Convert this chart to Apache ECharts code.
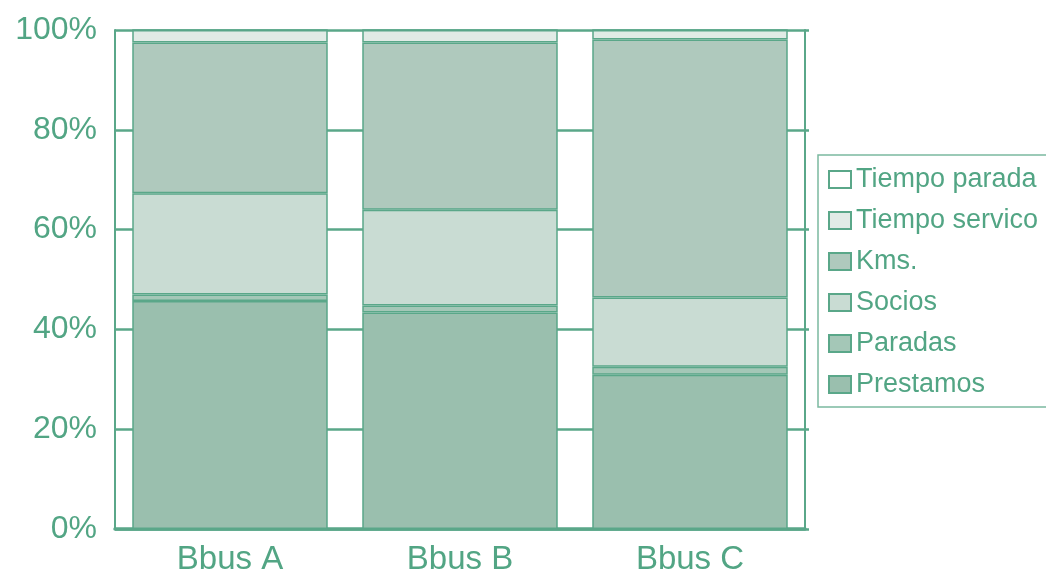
<!DOCTYPE html>
<html>
<head>
<meta charset="utf-8">
<script src="https://cdn.jsdelivr.net/npm/echarts@6/dist/echarts.min.js"></script>
<style>html,body{margin:0;padding:0;background:#fff}#c{width:1046px;height:576px}</style>
</head>
<body>
<div id="c"></div>
<script>
const categories = ['Bbus A', 'Bbus B', 'Bbus C'];
const seriesNames = ['Prestamos', 'Paradas', 'Socios', 'Kms.', 'Tiempo servico', 'Tiempo parada'];
const prestamos = [45.7, 43.4, 30.9];
const paradas = [1.3, 1.4, 1.6];
const socios = [20.3, 19.2, 13.9];
const kms = [30.2, 33.5, 51.7];
const tiempoServico = [2.5, 2.5, 1.9];
const tiempoParada = [0, 0, 0];
const yTicks = [0, 20, 40, 60, 80, 100];

const values = [prestamos, paradas, socios, kms, tiempoServico, tiempoParada];
const colors = ['#9abfae', '#a4c7b7', '#c9dcd3', '#afc9bd', '#e1ebe6', '#ffffff'];
const green = '#5aa789';
const textColor = '#52a584';
const font = 'Liberation Sans';

const chart = echarts.init(document.getElementById('c'), null, {renderer: 'canvas'});
const yAxisBase = {
  type: 'value', min: yTicks[0], max: yTicks[yTicks.length - 1], interval: 20,
  axisLine: {show: true, lineStyle: {color: green, width: 2}}
};
chart.setOption({
  backgroundColor: '#fff',
  animation: false,
  grid: {left: 115, right: 241, top: 30, bottom: 44},
  legend: {
    orient: 'vertical',
    left: 818, top: 155,
    data: seriesNames.slice().reverse(),
    itemWidth: 22, itemHeight: 17, itemGap: 14,
    padding: [11, 40, 9, 10],
    borderColor: '#7bb9a0', borderWidth: 1.5,
    textStyle: {color: textColor, fontSize: 27, fontFamily: font},
    icon: 'rect'
  },
  xAxis: {
    type: 'category', data: categories,
    axisLine: {show: true, lineStyle: {color: green, width: 3.5}},
    axisTick: {show: false},
    axisLabel: {color: textColor, fontSize: 33, fontFamily: font, margin: 14}
  },
  yAxis: [
    Object.assign({}, yAxisBase, {
      position: 'left',
      axisTick: {show: false},
      axisLabel: {color: textColor, fontSize: 32, fontFamily: font, margin: 18, formatter: '{value}%'},
      splitLine: {show: true, lineStyle: {color: green, width: 2.5}}
    }),
    Object.assign({}, yAxisBase, {
      position: 'right',
      axisTick: {show: true, inside: false, length: 4, lineStyle: {color: green, width: 2.5}},
      axisLabel: {show: false},
      splitLine: {show: false}
    })
  ],
  series: seriesNames.map((name, i) => ({
    name: name, type: 'bar', stack: 'total',
    data: values[i],
    barCategoryGap: '15%',
    itemStyle: {color: colors[i], borderColor: green, borderWidth: 1.5},
    emphasis: {disabled: true}
  }))
});
</script>
</body>
</html>
